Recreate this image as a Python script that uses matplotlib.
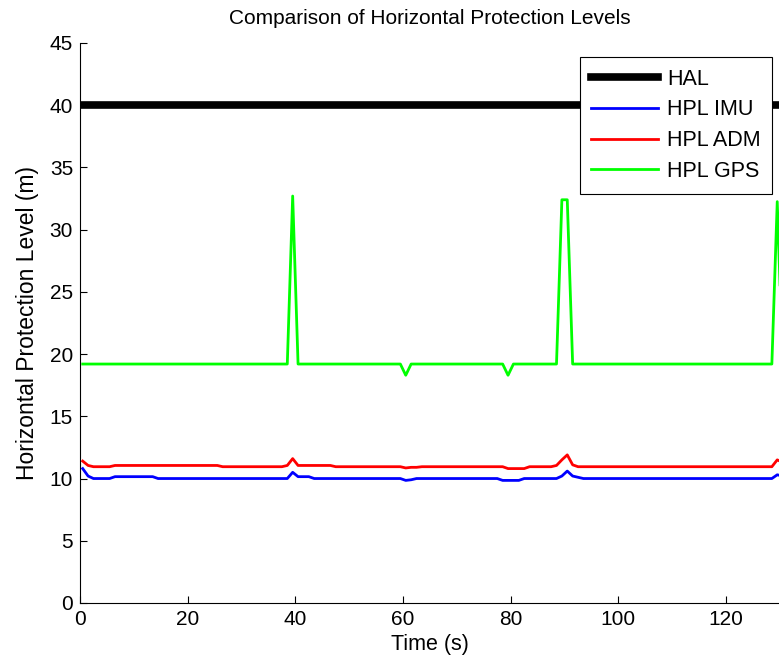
import numpy as np
import matplotlib
matplotlib.use("Agg")
import matplotlib.pyplot as plt

plt.rcParams['font.family'] = ['Liberation Sans', 'DejaVu Sans']

# time samples (s)
time = np.arange(0.5, 131, 1.0)

hal = [40.0] * 131

hpl_imu = ([10.8, 10.2] + [10.0] * 4 + [10.15] * 8 + [10.0] * 25 + [10.5]
           + [10.15] * 3 + [10.0] * 17 + [9.85, 9.9] + [10.0] * 16 + [9.85] * 4
           + [10.0] * 7 + [10.2, 10.6, 10.2, 10.1] + [10.0] * 36 + [10.3, 10.2])

hpl_adm = ([11.4, 11.05] + [10.95] * 4 + [11.05] * 20 + [10.95] * 12 + [11.05, 11.6]
           + [11.05] * 7 + [10.95] * 13 + [10.85] + [10.9] * 2 + [10.95] * 16
           + [10.8] * 4 + [10.95] * 5 + [11.05, 11.5, 11.9, 11.1] + [10.95] * 37
           + [11.5, 11.3])

hpl_gps = ([19.2] * 39 + [32.7] + [19.2] * 20 + [18.3] + [19.2] * 18 + [18.3]
           + [19.2] * 9 + [32.4, 32.4] + [19.2] * 38 + [32.25] + [19.2])

fig = plt.figure(figsize=(7.79, 6.6), dpi=100)
ax = fig.add_axes([0.1027, 0.0864, 0.8985, 0.8485])

ax.plot(time, hal, color='black', lw=5.5, label='HAL')
ax.plot(time, hpl_imu, color='#0000ff', lw=2.0, label='HPL IMU')
ax.plot(time, hpl_adm, color='#ff0000', lw=2.0, label='HPL ADM')
ax.plot(time, hpl_gps, color='#00ff00', lw=2.0, label='HPL GPS')

ax.set_xlim(0, 130)
ax.set_ylim(0, 45)
ax.set_xticks(np.arange(0, 121, 20))
ax.set_yticks(np.arange(0, 46, 5))
ax.spines['top'].set_visible(False)
ax.spines['right'].set_visible(False)
ax.tick_params(direction='in', length=5, labelsize=15, width=0.8, pad=5)

ax.set_title('Comparison of Horizontal Protection Levels', fontsize=15, pad=14)
ax.set_xlabel('Time (s)', fontsize=15.5, labelpad=4)
ax.set_ylabel('Horizontal Protection Level (m)', fontsize=16.5, labelpad=8)

leg = ax.legend(loc='upper right', bbox_to_anchor=(0.989, 0.975), fontsize=15.5,
                handlelength=3.1, handletextpad=0.4, fancybox=False, framealpha=1,
                edgecolor='black', labelspacing=0.45, borderpad=0.55,
                borderaxespad=0)
leg.get_frame().set_linewidth(0.8)

fig.savefig('out.png', dpi=100)
